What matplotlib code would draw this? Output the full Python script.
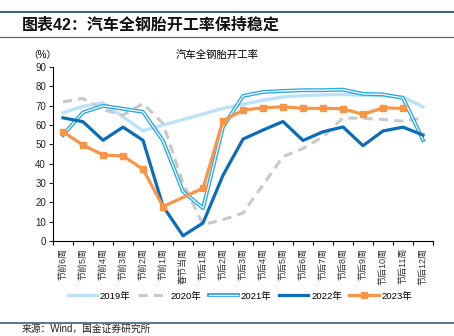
import numpy as np
import matplotlib
matplotlib.use("Agg")
import matplotlib.pyplot as plt
from matplotlib.lines import Line2D
from matplotlib.legend_handler import HandlerTuple

plt.rcParams['font.family'] = ['Liberation Sans', 'Noto Sans CJK SC', 'DejaVu Sans']

# categories: weeks around Spring Festival
weeks = ["节前6周", "节前5周", "节前4周", "节前3周", "节前2周", "节前1周", "春节当周",
         "节后1周", "节后2周", "节后3周", "节后4周", "节后5周", "节后6周", "节后7周",
         "节后8周", "节后9周", "节后10周", "节后11周", "节后12周"]

y2019 = [66.3, 69.7, 71.4, 64.2, 57.0, 60.0, 62.8, 65.7, 68.6, 70.7, 72.8, 74.5,
         75.2, 75.6, 75.8, 75.4, 75.2, 74.5, 69.4]
y2020 = [72.0, 73.7, 68.0, 65.1, 71.1, 60.8, 30.0, 8.5, 11.0, 14.5, 29.0, 43.6,
         47.9, 53.9, 63.7, 63.4, 62.9, 62.0, 63.7]
y2021 = [54.8, 66.5, 69.9, 68.4, 66.8, 51.9, 25.6, 17.0, 59.0, 75.0, 77.1, 77.6,
         78.0, 78.0, 78.3, 76.1, 75.8, 74.0, 52.2]
y2022 = [63.7, 61.7, 52.1, 58.9, 52.1, 18.0, 2.7, 9.3, 34.0, 52.7, 57.4, 61.8,
         52.0, 56.5, 59.0, 49.3, 56.9, 58.9, 54.8]
# 2023: no value for 春节当周, series ends at 节后11周
x2023 = [0, 1, 2, 3, 4, 5, 7, 8, 9, 10, 11, 12, 13, 14, 15, 16, 17]
y2023 = [56.5, 49.6, 44.5, 44.0, 37.1, 17.8, 27.3, 62.2, 67.7, 68.9, 69.4, 68.6,
         68.6, 68.4, 65.5, 68.9, 68.6]

c2019 = "#bde2f7"
c2020 = "#c9c9c9"
c2021 = "#2aa7e3"
c2022 = "#0b6cba"
c2023 = "#f79646"

fig = plt.figure(figsize=(4.54, 3.36), dpi=100)
ax = fig.add_axes([53 / 454, 1 - 241 / 336, 380 / 454, 174 / 336])

x = np.arange(len(weeks))
ax.plot(x, y2019, color=c2019, lw=2.4, zorder=2)
ax.plot(x, y2020, color=c2020, lw=2.2, dashes=(3, 2), zorder=2)
ax.plot(x, y2021, color=c2021, lw=2.8, zorder=3)
ax.plot(x, y2021, color="white", lw=0.9, zorder=3)
ax.plot(x, y2022, color=c2022, lw=2.3, zorder=4)
ax.plot(x2023, y2023, color=c2023, lw=2.3, marker='s', ms=5, zorder=5)

ax.set_xlim(-0.5, len(weeks) - 0.5)
ax.set_ylim(0, 90)
ax.set_yticks(np.arange(0, 91, 10))
ax.tick_params(axis='y', labelsize=7, length=3, width=0.8, pad=2, colors='#222222')

ax.set_xticks(x)
ax.set_xticklabels(weeks, rotation=90, fontsize=6.5, color='#333333')
ax.set_xticks(np.arange(-0.5, len(weeks)), minor=True)
ax.tick_params(axis='x', which='major', length=0, pad=5)
ax.tick_params(axis='x', which='minor', length=3, width=0.8)

for s in ['top', 'right']:
    ax.spines[s].set_visible(False)
for s in ['left', 'bottom']:
    ax.spines[s].set_linewidth(0.8)

# legend
h2021 = (Line2D([], [], color=c2021, lw=2.8), Line2D([], [], color='white', lw=0.9))
handles = [Line2D([], [], color=c2019, lw=2.4),
           Line2D([], [], color=c2020, lw=2.2, dashes=(3, 2)),
           h2021,
           Line2D([], [], color=c2022, lw=2.3),
           Line2D([], [], color=c2023, lw=2.3, marker='s', ms=5)]
labels = ["2019年", "2020年", "2021年", "2022年", "2023年"]
fig.legend(handles, labels, loc='center', bbox_to_anchor=(240 / 454, 1 - 296 / 336),
           ncol=5, frameon=False, fontsize=6.8, handlelength=3.1, handletextpad=0.3,
           columnspacing=0.8, borderaxespad=0, borderpad=0,
           handler_map={tuple: HandlerTuple(ndivide=1, pad=0)})

# header / footer
fig.add_artist(Line2D([0, 1], [1 - 12 / 336] * 2, color='#3f6079', lw=1.5))
fig.add_artist(Line2D([0, 1], [1 - 37 / 336] * 2, color='#3f6079', lw=0.8))
fig.add_artist(Line2D([0, 1], [1 - 323 / 336] * 2, color='#3f6079', lw=1.2))
fig.text(22 / 454, 1 - 25 / 336, "图表42：汽车全钢胎开工率保持稳定", fontsize=11.5,
         fontweight='bold', va='center', ha='left', color='#111111')
fig.text(28 / 454, 1 - 55 / 336, "（%）", fontsize=7, va='center', ha='left')
fig.text(217 / 454, 1 - 56 / 336, "汽车全钢胎开工率", fontsize=7.5, va='center', ha='center')
fig.text(22 / 454, 1 - 329 / 336, "来源：Wind，国金证券研究所", fontsize=7, va='center',
         ha='left', color='#222222')

fig.savefig("out.png", dpi=100)
